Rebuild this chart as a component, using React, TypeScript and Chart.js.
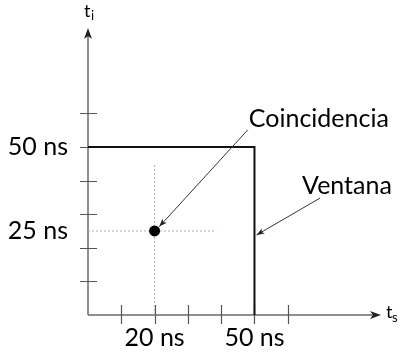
import React, { useEffect, useRef } from "react";
import { Chart, registerables } from "chart.js";
Chart.register(...registerables);

// Window (coincidence window) outline: ts, ti in ns
const windowTs = [0, 50, 50];
const windowTi = [50, 50, 0];
// Detected event
const eventTs = [20];
const eventTi = [25];
// Dotted guide extents
const vGuideTi = [0, 45];
const hGuideTs = [0, 38.5];
// Axis tick marks (every 10 ns)
const xTickValues = [10, 20, 30, 40, 50, 60];
const yTickValues = [10, 20, 30, 40, 50, 60];
// Axis labels
const xLabelValues = [20, 50];
const xLabelTexts = ["20 ns", "50 ns"];
const yLabelValues = [25, 50];
const yLabelTexts = ["25 ns", "50 ns"];
const xAxisMax = 88;
const yAxisMax = 85.4;
// Annotations
const annTexts = ["Coincidencia", "Ventana"];
const annTextX = [48.3, 64.3];
const annTextY = [56, 36];
const annFromX = [48.0, 69.7];
const annFromY = [55.1, 34.8];
const annToX = [21.4, 50.6];
const annToY = [26.3, 23.8];

const FONT = "Lato, 'Open Sans', sans-serif";

function arrowHead(ctx: CanvasRenderingContext2D, x1: number, y1: number, x2: number, y2: number, len: number, half: number, notch: number) {
  const a = Math.atan2(y2 - y1, x2 - x1);
  const c = Math.cos(a), s = Math.sin(a);
  ctx.beginPath();
  ctx.moveTo(x2, y2);
  ctx.lineTo(x2 - len * c - half * s, y2 - len * s + half * c);
  ctx.lineTo(x2 - (len - notch) * c, y2 - (len - notch) * s);
  ctx.lineTo(x2 - len * c + half * s, y2 - len * s - half * c);
  ctx.closePath();
  ctx.fill();
}

const overlay = {
  id: "overlay",
  beforeDatasetsDraw(chart: any) {
    const ctx = chart.ctx as CanvasRenderingContext2D;
    const xs = chart.scales.x, ys = chart.scales.y;
    const x0 = xs.getPixelForValue(0), y0 = ys.getPixelForValue(0);
    const xEnd = xs.getPixelForValue(xAxisMax), yEnd = ys.getPixelForValue(yAxisMax);
    ctx.save();
    ctx.strokeStyle = "#6b6b6b";
    ctx.fillStyle = "#222";
    ctx.lineWidth = 1.5;
    // axes
    ctx.beginPath();
    ctx.moveTo(x0, y0);
    ctx.lineTo(xEnd - 6, y0);
    ctx.moveTo(x0, y0);
    ctx.lineTo(x0, yEnd + 6);
    ctx.stroke();
    arrowHead(ctx, x0, y0, xEnd, y0, 11, 4, 3);
    arrowHead(ctx, x0, y0, x0, yEnd, 11, 4, 3);
    // ticks
    ctx.lineWidth = 1.2;
    ctx.strokeStyle = "#555";
    ctx.beginPath();
    xTickValues.forEach((v) => {
      const px = Math.round(xs.getPixelForValue(v)) + 0.5;
      ctx.moveTo(px, y0 - 10);
      ctx.lineTo(px, y0 + 9);
    });
    yTickValues.forEach((v) => {
      const py = Math.round(ys.getPixelForValue(v)) + 0.5;
      ctx.moveTo(x0 - 8, py);
      ctx.lineTo(x0 + 9, py);
    });
    ctx.stroke();
    // tick labels
    ctx.fillStyle = "#000";
    ctx.font = `25px ${FONT}`;
    ctx.textBaseline = "middle";
    ctx.textAlign = "right";
    yLabelValues.forEach((v, i) => ctx.fillText(yLabelTexts[i], x0 - 20, ys.getPixelForValue(v)));
    ctx.textAlign = "center";
    ctx.textBaseline = "alphabetic";
    xLabelValues.forEach((v, i) => ctx.fillText(xLabelTexts[i], xs.getPixelForValue(v), y0 + 31));
    // axis titles
    ctx.textAlign = "left";
    ctx.font = `18px ${FONT}`;
    ctx.fillText("t", x0 - 4, yEnd - 11);
    ctx.font = `13px ${FONT}`;
    ctx.fillText("i", x0 + 3, yEnd - 8);
    ctx.font = `18px ${FONT}`;
    ctx.fillText("t", xEnd + 5, y0 + 3);
    ctx.font = `13px ${FONT}`;
    ctx.fillText("s", xEnd + 11, y0 + 7);
    ctx.restore();
  },
  afterDatasetsDraw(chart: any) {
    const ctx = chart.ctx as CanvasRenderingContext2D;
    const xs = chart.scales.x, ys = chart.scales.y;
    ctx.save();
    ctx.fillStyle = "#000";
    ctx.font = `25px ${FONT}`;
    ctx.textAlign = "left";
    ctx.textBaseline = "alphabetic";
    annTexts.forEach((t, i) => {
      ctx.fillText(t, xs.getPixelForValue(annTextX[i]), ys.getPixelForValue(annTextY[i]));
      const fx = xs.getPixelForValue(annFromX[i]), fy = ys.getPixelForValue(annFromY[i]);
      const tx = xs.getPixelForValue(annToX[i]), ty = ys.getPixelForValue(annToY[i]);
      ctx.strokeStyle = "#333";
      ctx.lineWidth = 1;
      ctx.beginPath();
      ctx.moveTo(fx, fy);
      ctx.lineTo(tx, ty);
      ctx.stroke();
      ctx.fillStyle = "#222";
      arrowHead(ctx, fx, fy, tx, ty, 8, 3, 2);
      ctx.fillStyle = "#000";
    });
    ctx.restore();
  },
};

export default function App() {
  const ref = useRef<HTMLCanvasElement>(null);
  useEffect(() => {
    if (!ref.current) return;
    const chart = new Chart(ref.current, {
      type: "scatter",
      data: {
        datasets: [
          {
            data: eventTs.map((v, i) => ({ x: v, y: eventTi[i] })),
            pointRadius: 5.5,
            pointBackgroundColor: "#000",
            pointBorderColor: "#000",
            pointBorderWidth: 0,
            order: 0,
          },
          {
            data: windowTs.map((v, i) => ({ x: v, y: windowTi[i] })),
            showLine: true,
            borderColor: "#111",
            borderWidth: 2,
            pointRadius: 0,
            order: 1,
          },
          {
            data: vGuideTi.map((v) => ({ x: eventTs[0], y: v })),
            showLine: true,
            borderColor: "#b0b0b0",
            borderWidth: 1,
            borderDash: [2, 2],
            pointRadius: 0,
            order: 2,
          },
          {
            data: hGuideTs.map((v) => ({ x: v, y: eventTi[0] })),
            showLine: true,
            borderColor: "#b0b0b0",
            borderWidth: 1,
            borderDash: [2, 2],
            pointRadius: 0,
            order: 3,
          },
        ] as any,
      },
      options: {
        animation: false,
        responsive: false,
        maintainAspectRatio: false,
        devicePixelRatio: 1,
        layout: { padding: { left: 88, right: 19, top: 28, bottom: 39 } },
        scales: {
          x: { type: "linear", min: 0, max: xAxisMax, display: false },
          y: { type: "linear", min: 0, max: yAxisMax, display: false },
        },
        plugins: { legend: { display: false }, tooltip: { enabled: false } },
        elements: { line: { tension: 0 } },
      },
      plugins: [overlay],
    });
    return () => chart.destroy();
  }, []);
  return (
    <div style={{ position: "fixed", left: 0, top: 0, width: 400, height: 354, background: "#fff" }}>
      <canvas ref={ref} width={400} height={354} style={{ width: 400, height: 354 }} />
    </div>
  );
}
